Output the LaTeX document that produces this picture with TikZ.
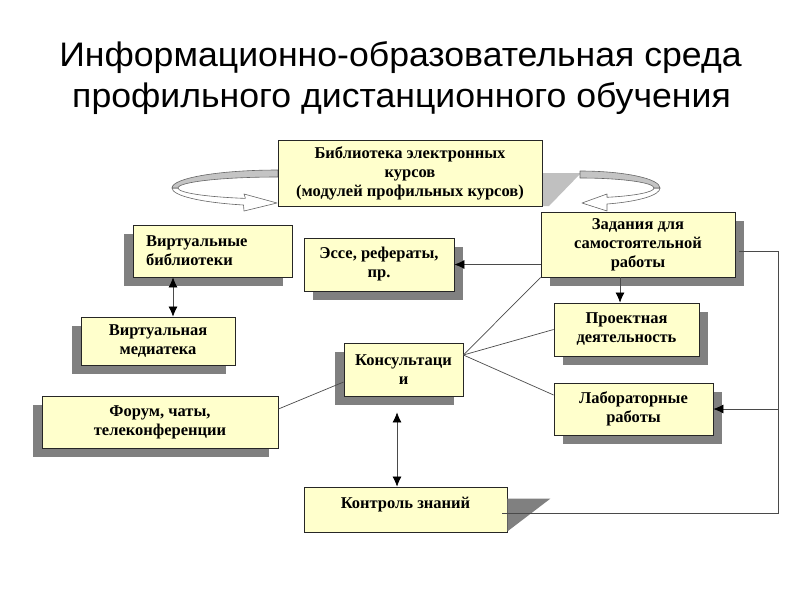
\documentclass[tikz,border=0pt]{standalone}
\usepackage{fontspec}
\setmainfont{Liberation Serif}
\newfontfamily\titlefont{Liberation Sans}
\usetikzlibrary{arrows.meta,shadows,calc}
\definecolor{boxfill}{HTML}{FFFFCC}
\definecolor{shadowgray}{HTML}{808080}
\definecolor{ribbongray}{HTML}{C4C4C4}
\definecolor{trapgray}{HTML}{C0C0C0}
\definecolor{linegray}{HTML}{4A4A4A}
\begin{document}
\begin{tikzpicture}[x=1pt,y=-1pt,
 box/.style={draw=black!85, fill=boxfill, line width=0.8pt, align=center, inner sep=0pt, font=\fontsize{16.5}{19}\selectfont\bfseries},
 lshadow/.style={drop shadow={shadow xshift=-9pt,shadow yshift=-9pt,fill=shadowgray,opacity=1}},
 rshadow/.style={drop shadow={shadow xshift=9pt,shadow yshift=-9pt,fill=shadowgray,opacity=1}},
 conn/.style={draw=linegray, line width=0.7pt},
 arr/.style={conn, -{Latex[length=10pt,width=9pt,color=black]}},
 darr/.style={conn, {Latex[length=10pt,width=9pt,color=black]}-{Latex[length=10pt,width=9pt,color=black]}},
 ribbon/.style={draw=black!60, line width=0.6pt, line join=round},
 ttl/.style={font=\titlefont\fontsize{34}{41}\selectfont, anchor=base, inner sep=0pt},
]
\useasboundingbox (0,0) rectangle (800,600);
\fill[white] (0,0) rectangle (800,600);

% title
\node[ttl] (t1) at (400.5,66) {\scalebox{1.048}[1]{Информационно-образовательная среда}};
\node[ttl] (t2) at (401.5,107) {\scalebox{1.048}[1]{профильного дистанционного обучения}};

% shadow patch next to the top box
\fill[trapgray] (542,173) -- (581,173) -- (549,206) -- (542,206) -- cycle;

% left curved arrow
\path[ribbon, fill=white] (243.5,205) arc[start angle=109, end angle=180, x radius=106, y radius=18]
  -- (178,188) arc[start angle=180, end angle=109, x radius=100, y radius=11]
  -- (244,194) -- (277,203) -- (244,211) -- cycle;
\path[ribbon, fill=ribbongray] (278,170) arc[start angle=270, end angle=180, x radius=106, y radius=18]
  -- (178,188) arc[start angle=180, end angle=270, x radius=100, y radius=11] -- cycle;

% right curved arrow
\path[ribbon, fill=white] (607,204) arc[start angle=70.3, end angle=0, x radius=80, y radius=17]
  -- (654,188) arc[start angle=0, end angle=68.6, x radius=74, y radius=10]
  -- (607,194) -- (582,203) -- (607,211) -- cycle;
\path[ribbon, fill=ribbongray] (580,171) arc[start angle=270, end angle=360, x radius=80, y radius=17]
  -- (654,188) arc[start angle=0, end angle=-90, x radius=74, y radius=10] -- cycle;

% boxes
\node[box, minimum width=264pt, minimum height=66pt] (lib) at (410,173)
  {Библиотека электронных\\курсов\\(модулей профильных курсов)};
\node[box, lshadow, minimum width=159pt, minimum height=52pt, text width=133pt, align=left] (vlib) at (212.5,251)
  {Виртуальные\\библиотеки};
\node[box, lshadow, minimum width=154pt, minimum height=48pt] (media) at (158,341)
  {Виртуальная\\медиатека};
\node[box, lshadow, minimum width=236pt, minimum height=52pt] (forum) at (160,422)
  {Форум, чаты,\\телеконференции};
\node[box, lshadow, minimum width=119pt, minimum height=53pt] (cons) at (403.5,369.5)
  {Консультаци\\и};
\node[box, rshadow, minimum width=150pt, minimum height=53pt] (esse) at (379,264.5)
  {Эссе, рефераты,\\пр.};
\node[box, minimum width=203pt, minimum height=45pt] (ctrl) at (405.5,509.5)
  {Контроль знаний\\[-5pt]\mbox{}};
\node[box, rshadow, minimum width=194pt, minimum height=65pt] (zad) at (638,244.5)
  {Задания для\\самостоятельной\\работы};
\node[box, rshadow, minimum width=145pt, minimum height=53pt] (proj) at (626.5,329.5)
  {Проектная\\деятельность};
\node[box, rshadow, minimum width=159pt, minimum height=52pt] (lab) at (633.5,409)
  {Лабораторные\\работы};

% odd shadow of the control box
\fill[shadowgray] ($(ctrl.north east)+(0,12)$) -- ($(ctrl.north east)+(43,12)$) -- ($(ctrl.south east)+(0,-1)$) -- cycle;

% connectors
\draw[arr] (zad.west |- esse.east) -- (esse.east);
\coordinate (a1) at ($(zad.south)+(-18,0)$);
\draw[arr] (a1) -- (a1 |- proj.north);
\coordinate (c1) at ($(cons.east)+(0,-14.5)$);
\draw[conn] (c1) -- (zad.south west);
\draw[conn] (c1) -- (proj.west);
\draw[conn] (c1) -- ($(lab.west)+(0,-14)$);
\draw[conn] ($(forum.east)+(0,-13)$) -- ($(cons.west)+(0,12.5)$);
\coordinate (v1) at ($(vlib.south)+(-39.5,0)$);
\draw[darr] (v1) -- (v1 |- media.north);
\coordinate (d1) at ($(cons.south)+(-6.5,16)$);
\draw[darr] (d1) -- (d1 |- ctrl.north);
\coordinate (r1) at ($(zad.east)+(43,6.5)$);
\draw[conn] ($(zad.east)+(4,6.5)$) -- (r1) |- ($(ctrl.east)+(-5,3.5)$);
\draw[arr] (r1 |- lab.east) -- (lab.east);
\end{tikzpicture}
\end{document}
